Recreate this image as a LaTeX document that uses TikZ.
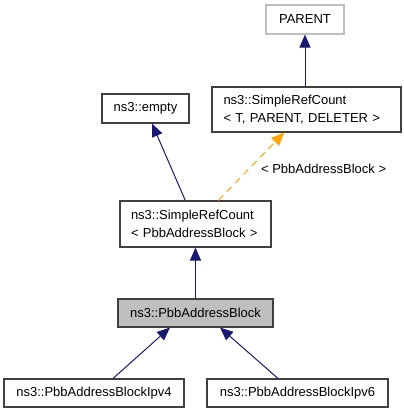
\documentclass[tikz,border=0pt]{standalone}
\usepackage{fontspec}
\setmainfont{Liberation Sans}
\usetikzlibrary{arrows.meta}
\definecolor{edgeblue}{HTML}{191970}
\definecolor{edgeorange}{HTML}{FFA500}
\begin{document}
\begin{tikzpicture}
		[x=1pt,y=-1pt,
		font=\fontsize{13}{17.5}\selectfont,
		block/.style ={rectangle, draw=black!75, line width=1.1pt, inner sep=0pt, minimum height=28pt},
		multi/.style ={block, align=left, minimum height=45pt},
		line/.style ={draw=edgeblue, line width=1pt, -{Triangle[length=13pt,width=11pt]}},
		tmpl/.style ={draw=edgeorange, line width=1pt, dash pattern=on 7pt off 5pt, -{Triangle[length=13pt,width=11pt]}}]
		\useasboundingbox (0,0) rectangle (404,413);
		\draw (305,19.5) node[block, draw=black!25, minimum width=78pt, minimum height=29pt] (parent) {PARENT};
		\draw (306.5,109.5) node[multi, minimum width=189pt, text width=166pt] (refT) {ns3::SimpleRefCount\\< T, PARENT, DELETER >};
		\draw (145.5,108.5) node[block, minimum width=87pt, minimum height=29pt] (empty) {ns3::empty};
		\draw (195.5,224) node[multi, minimum width=151pt, text width=129pt, minimum height=46pt] (refP) {ns3::SimpleRefCount\\< PbbAddressBlock >};
		\draw (195.5,313) node[block, fill=black!25, minimum width=155pt] (pab) {ns3::PbbAddressBlock};
		\draw (94,393) node[block, minimum width=180pt] (v4) {ns3::PbbAddressBlockIpv4};
		\draw (297.5,393) node[block, minimum width=181pt] (v6) {ns3::PbbAddressBlockIpv6};
		\path
		(parent.south |- refT.north) edge[line] (parent)
		(refP) edge[line] (empty)
		(pab) edge[line] (refP)
		([xshift=19pt]v4.north) edge[line] ([xshift=-25.5pt]pab.south)
		([xshift=-19.5pt]v6.north) edge[line] ([xshift=24.5pt]pab.south);
		\path (refP) edge[tmpl] node[right=8pt, pos=0.47, text=black] (arg) {< PbbAddressBlock >} (refT);

	\end{tikzpicture}
\end{document}
